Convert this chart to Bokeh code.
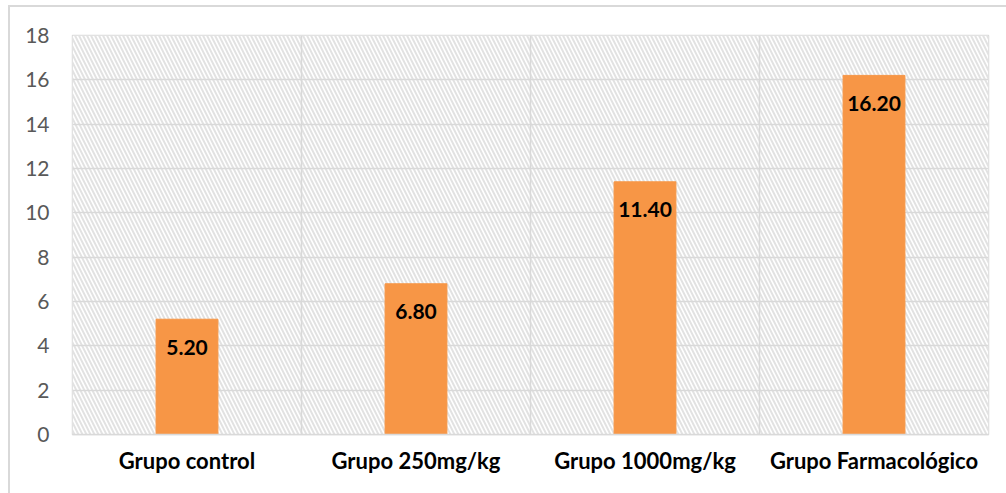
import numpy as np
from bokeh.plotting import figure
from bokeh.models import BoxAnnotation, FixedTicker, Range1d, ColumnDataSource
from bokeh.core.properties import value
from bokeh.embed import file_html
from bokeh.resources import INLINE

# Data
groups = ["Grupo control", "Grupo 250mg/kg", "Grupo 1000mg/kg", "Grupo Farmacológico"]
values = [5.20, 6.80, 11.40, 16.20]
y_ticks = [0, 2, 4, 6, 8, 10, 12, 14, 16, 18]

x = np.arange(len(groups)) + 0.5
src = ColumnDataSource(dict(
    x=x, top=values, label=[f"{v:.2f}" for v in values]
))

GRID = "#d9d9d9"
ORANGE = "#f79646"

p = figure(width=998, height=488, output_backend="svg", toolbar_location=None,
           x_range=Range1d(0, len(groups)), y_range=Range1d(0, 18),
           min_border_left=62, min_border_right=20, min_border_top=28,
           min_border_bottom=61)
p.margin = (5, 0, 0, 8)
p.styles = {"border-top": f"2px solid {GRID}", "border-left": f"2px solid {GRID}"}
p.outline_line_color = GRID
p.outline_line_width = 1.5
p.background_fill_color = "white"

# hatched plot area, beneath the grid
p.add_layout(BoxAnnotation(fill_color="white", fill_alpha=1.0,
                           hatch_pattern="\\", hatch_color="#e2e2e2",
                           hatch_scale=8, hatch_weight=2,
                           line_color=None, level="image"))

p.vbar(x="x", top="top", width=0.27, bottom=0, source=src,
       fill_color=ORANGE, line_color=ORANGE)

p.text(x="x", y="top", text="label", source=src, y_offset=28,
       text_align="center", text_baseline="middle",
       text_font=value("Lato"), text_font_style="bold",
       text_font_size="21px", text_color="black")

# axes
p.xaxis.ticker = FixedTicker(ticks=list(x))
p.xaxis.major_label_overrides = {float(xi): g for xi, g in zip(x, groups)}
p.xaxis.major_label_text_font = "Lato"
p.xaxis.major_label_text_font_style = "bold"
p.xaxis.major_label_text_font_size = "22px"
p.xaxis.major_label_text_color = "black"
p.xaxis.major_label_standoff = 12
p.xaxis.axis_line_color = GRID
p.xaxis.axis_line_width = 1.5
p.xaxis.major_tick_line_color = None
p.xaxis.major_tick_out = 0
p.xaxis.minor_tick_line_color = None

p.yaxis.ticker = FixedTicker(ticks=y_ticks)
p.yaxis.major_label_text_font = "Lato"
p.yaxis.major_label_text_font_size = "21px"
p.yaxis.major_label_text_color = "#595959"
p.yaxis.major_label_standoff = 23
p.yaxis.axis_line_color = None
p.yaxis.major_tick_line_color = None
p.yaxis.major_tick_out = 0
p.yaxis.minor_tick_line_color = None

# grid
p.xgrid.ticker = FixedTicker(ticks=list(range(len(groups) + 1)))
p.xgrid.grid_line_color = GRID
p.xgrid.grid_line_width = 1.5
p.ygrid.ticker = FixedTicker(ticks=y_ticks)
p.ygrid.grid_line_color = GRID
p.ygrid.grid_line_width = 1.5

open("out.html", "w").write(file_html(p, INLINE))
